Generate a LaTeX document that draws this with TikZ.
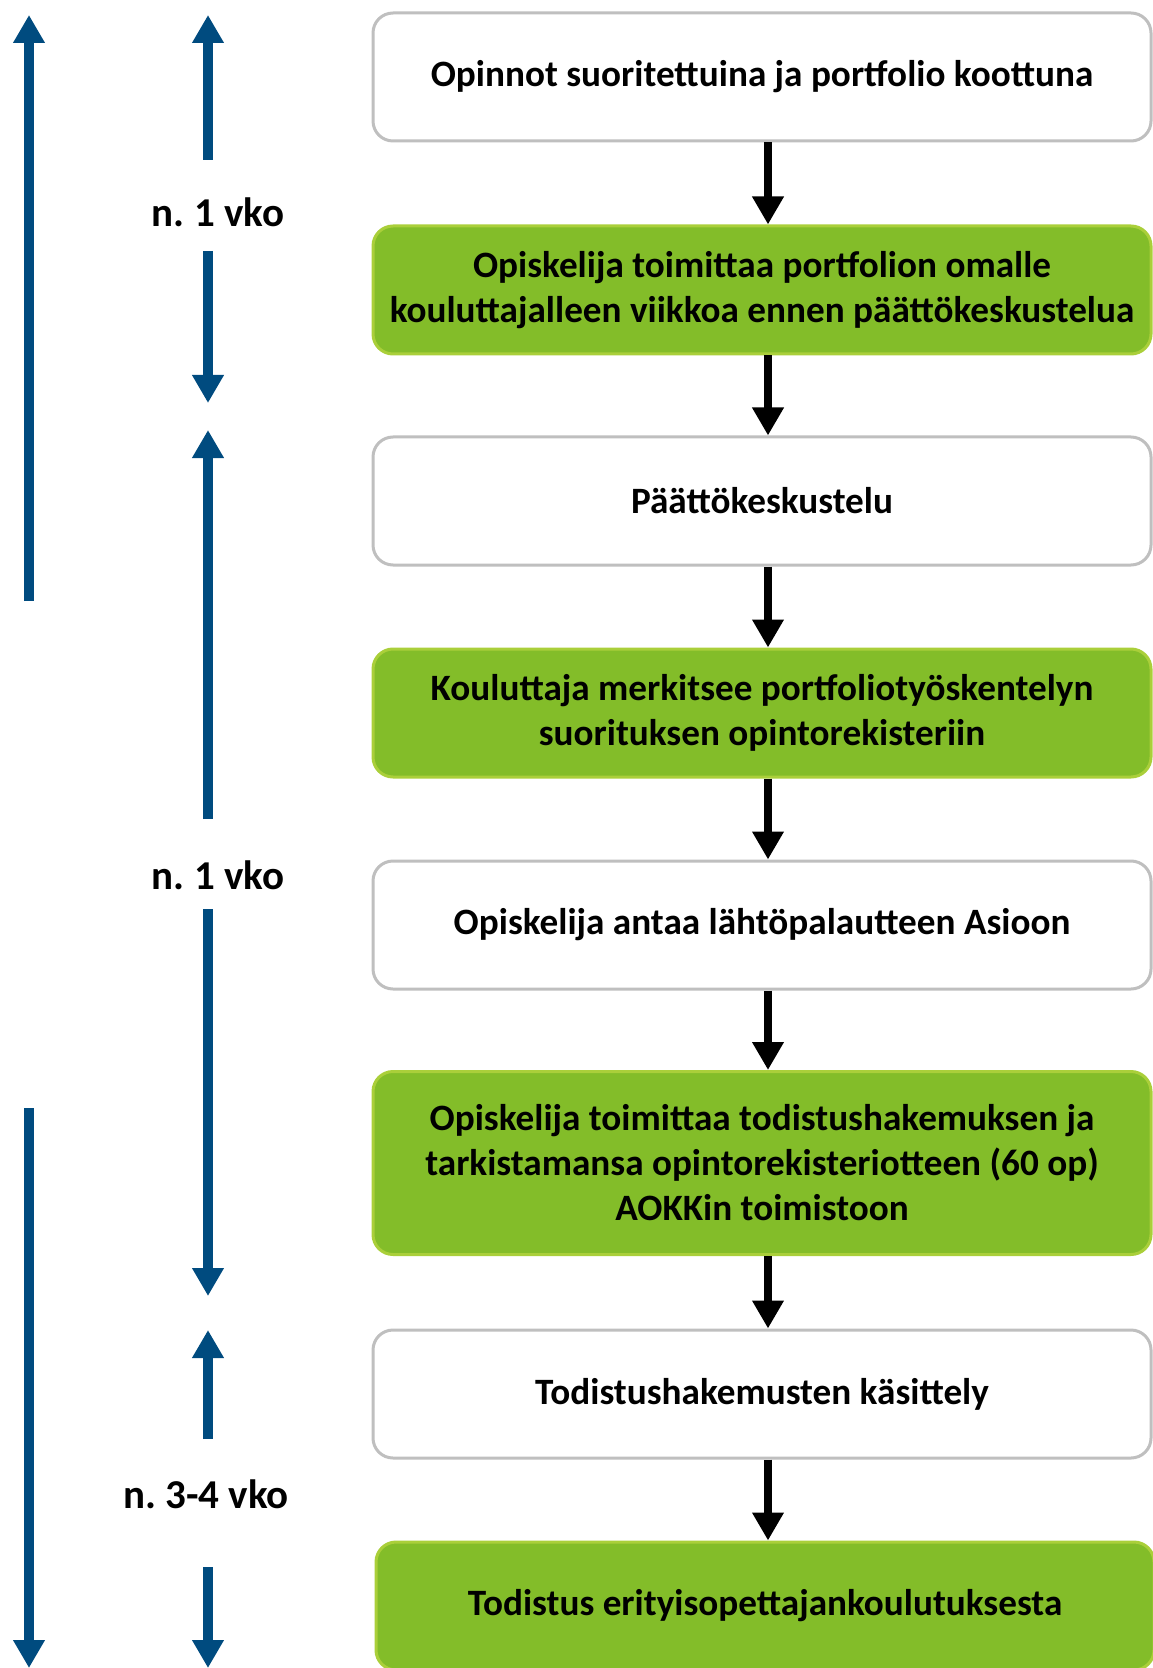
\documentclass[tikz,border=0pt]{standalone}
\usepackage{fontspec}
\setmainfont{Carlito}
\usetikzlibrary{arrows.meta}
\definecolor{stepgreen}{RGB}{131,189,41}
\definecolor{stepedge}{RGB}{170,207,58}
\definecolor{boxgray}{RGB}{191,191,191}
\definecolor{timeblue}{RGB}{0,75,127}
\frenchspacing

\begin{document}
\begin{tikzpicture}[
    x=0.5pt, y=-0.5pt,
    every node/.style={font=\bfseries\fontsize{18.6}{22.5}\selectfont},
    wbox/.style={rectangle, rounded corners=10pt, draw=boxgray, line width=1.5pt,
                 fill=white, minimum width=389pt, minimum height=64pt,
                 align=center, inner sep=0pt},
    gbox/.style={wbox, draw=stepedge, fill=stepgreen},
    flow/.style={-{Triangle[width=15pt, length=14pt]}, line width=4pt},
    span/.style={-{Triangle[width=15pt, length=14pt]}, line width=5pt, draw=timeblue},
    dur/.style={inner sep=0pt, font=\bfseries\fontsize{20.5}{24}\selectfont},
  ]
  \useasboundingbox (0,0) rectangle (1152,1668);
  % steps
  \node[wbox] (b1) at (762, 77) {Opinnot suoritettuina ja portfolio koottuna};
  \node[gbox] (b2) at (762, 290) {Opiskelija toimittaa portfolion omalle\\kouluttajalleen viikkoa ennen päättökeskustelua};
  \node[wbox] (b3) at (762, 501) {Päättökeskustelu};
  \node[gbox] (b4) at (762, 713) {Kouluttaja merkitsee portfoliotyöskentelyn\\suorituksen opintorekisteriin};
  \node[wbox] (b5) at (762, 925) {Opiskelija antaa lähtöpalautteen Asioon};
  \node[gbox, minimum height=91.5pt] (b6) at (762, 1163) {Opiskelija toimittaa todistushakemuksen ja\\tarkistamansa opintorekisteriotteen (60 op)\\AOKKin toimistoon};
  \node[wbox] (b7) at (762, 1394) {Todistushakemusten käsittely};
  \node[gbox] (b8) at (765, 1606) {Todistus erityisopettajankoulutuksesta};
  \coordinate (ax) at (768, 0);
  \draw[flow] (b1.south -| ax) -- (b2.north -| ax);
  \draw[flow] (b2.south -| ax) -- (b3.north -| ax);
  \draw[flow] (b3.south -| ax) -- (b4.north -| ax);
  \draw[flow] (b4.south -| ax) -- (b5.north -| ax);
  \draw[flow] (b5.south -| ax) -- (b6.north -| ax);
  \draw[flow] (b6.south -| ax) -- (b7.north -| ax);
  \draw[flow] (b7.south -| ax) -- (b8.north -| ax);
  % durations
  \node[dur] (d1) at (218, 212) {n. 1 vko};
  \node[dur] (d2) at (218, 875) {n. 1 vko};
  \node[dur] (d3) at (206, 1494) {n. 3-4 vko};
  \coordinate (u1a) at (208, 160);  \coordinate (u1b) at (208, 15);
  \coordinate (l1a) at (208, 251);  \coordinate (l1b) at (208, 403);
  \coordinate (u2a) at (208, 819);  \coordinate (u2b) at (208, 430);
  \coordinate (l2a) at (208, 909);  \coordinate (l2b) at (208, 1296);
  \coordinate (u3a) at (208, 1439); \coordinate (u3b) at (208, 1330);
  \coordinate (l3a) at (208, 1567); \coordinate (l3b) at (208, 1668);
  \draw[span] (u1a) -- (u1b);
  \draw[span] (l1a) -- (l1b);
  \draw[span] (u2a) -- (u2b);
  \draw[span] (l2a) -- (l2b);
  \draw[span] (u3a) -- (u3b);
  \draw[span] (l3a) -- (l3b);
  % overall spans
  \coordinate (s1a) at (29, 601);  \coordinate (s1b) at (29, 15);
  \coordinate (s2a) at (29, 1108); \coordinate (s2b) at (29, 1668);
  \draw[span] (s1a) -- (s1b);
  \draw[span] (s2a) -- (s2b);
\end{tikzpicture}
\end{document}
